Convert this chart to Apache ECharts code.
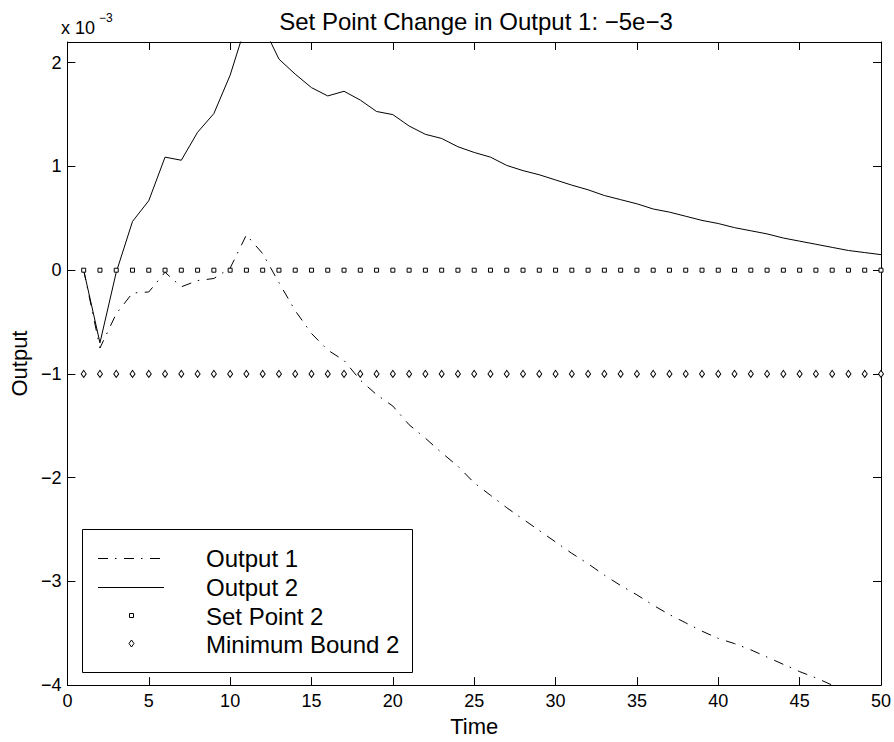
<!DOCTYPE html>
<html>
<head>
<meta charset="utf-8">
<script src="https://cdn.jsdelivr.net/npm/echarts@6/dist/echarts.min.js"></script>
<style>
html,body{margin:0;padding:0;background:#fff;}
#c{width:894px;height:742px;}
</style>
</head>
<body>
<div id="c"></div>
<script>
// ---- data (output values in units of 1e-3) ----
const time = [1,2,3,4,5,6,7,8,9,10,11,12,13,14,15,16,17,18,19,20,21,22,23,24,25,26,27,28,29,30,31,32,33,34,35,36,37,38,39,40,41,42,43,44,45,46,47,48,49,50];
const output1 = [0,-0.75,-0.42,-0.22,-0.21,-0.02,-0.16,-0.10,-0.08,0.02,0.34,0.16,-0.12,-0.39,-0.61,-0.77,-0.87,-1.06,-1.20,-1.31,-1.49,-1.62,-1.76,-1.89,-2.05,-2.17,-2.29,-2.40,-2.51,-2.62,-2.73,-2.83,-2.94,-3.04,-3.13,-3.23,-3.32,-3.40,-3.48,-3.55,-3.60,-3.66,-3.73,-3.80,-3.87,-3.93,-4.00,-4.06,-4.12,-4.18];
const output2 = [0,-0.70,-0.02,0.47,0.67,1.09,1.06,1.33,1.51,1.88,2.38,2.36,2.035,1.89,1.76,1.68,1.725,1.64,1.53,1.50,1.39,1.31,1.27,1.19,1.135,1.09,1.01,0.96,0.92,0.87,0.82,0.775,0.72,0.68,0.64,0.59,0.56,0.52,0.48,0.45,0.41,0.38,0.35,0.31,0.28,0.25,0.22,0.19,0.17,0.15];
const setPoint2 = [0,0,0,0,0,0,0,0,0,0,0,0,0,0,0,0,0,0,0,0,0,0,0,0,0,0,0,0,0,0,0,0,0,0,0,0,0,0,0,0,0,0,0,0,0,0,0,0,0,0];
const minBound2 = [-1,-1,-1,-1,-1,-1,-1,-1,-1,-1,-1,-1,-1,-1,-1,-1,-1,-1,-1,-1,-1,-1,-1,-1,-1,-1,-1,-1,-1,-1,-1,-1,-1,-1,-1,-1,-1,-1,-1,-1,-1,-1,-1,-1,-1,-1,-1,-1,-1,-1];
const xTicks = [0,5,10,15,20,25,30,35,40,45,50];
const yTicks = [-4,-3,-2,-1,0,1,2];
const seriesNames = ['Output 1','Output 2','Set Point 2','Minimum Bound 2'];
const titleText = 'Set Point Change in Output 1: \u22125e\u22123';
const xName = 'Time';
const yName = 'Output';
const scaleText = 'x 10';
const scaleExp = '\u22123';

// ---- styling ----
const FONT = '"Liberation Sans", Arial, Helvetica, sans-serif';
const BLACK = '#000';
const DASHDOT = [10, 7, 1.5, 7.5];
const pairs = ys => time.map((t, i) => [t, ys[i]]);
const minus = v => String(v).replace('-', '\u2212');

const chart = echarts.init(document.getElementById('c'), null, {renderer: 'svg'});

const axisCommon = {
  axisLine: {show: true, onZero: false, lineStyle: {color: BLACK, width: 1}},
  splitLine: {show: false}
};

const option = {
  animation: false,
  backgroundColor: '#fff',
  title: {
    text: titleText,
    left: 471,
    textAlign: 'center',
    top: 4,
    textStyle: {fontFamily: FONT, fontSize: 24, fontWeight: 'normal', color: BLACK}
  },
  grid: {left: 61, top: 42, right: 13, bottom: 54, containLabel: false},
  xAxis: [
    Object.assign({}, axisCommon, {
      type: 'value', position: 'bottom', min: 0, max: 50, interval: 5,
      axisTick: {show: true, inside: true, length: 8, customValues: xTicks, lineStyle: {color: BLACK}},
      axisLabel: {show: true, customValues: xTicks, margin: 7, fontFamily: FONT, fontSize: 18, color: BLACK},
      name: xName, nameLocation: 'middle', nameGap: 26,
      nameTextStyle: {fontFamily: FONT, fontSize: 22, color: BLACK}
    }),
    Object.assign({}, axisCommon, {
      type: 'value', position: 'top', min: 0, max: 50, interval: 5,
      axisTick: {show: true, inside: true, length: 8, customValues: xTicks, lineStyle: {color: BLACK}},
      axisLabel: {show: false}
    })
  ],
  yAxis: [
    Object.assign({}, axisCommon, {
      type: 'value', position: 'left', min: -4, max: 2.2, interval: 1,
      axisTick: {show: true, inside: true, length: 8, customValues: yTicks, lineStyle: {color: BLACK}},
      axisLabel: {show: true, customValues: yTicks, margin: 6, fontFamily: FONT, fontSize: 18, color: BLACK, formatter: minus},
      name: yName, nameLocation: 'middle', nameGap: 30, nameRotate: 90,
      nameTextStyle: {fontFamily: FONT, fontSize: 22, color: BLACK}
    }),
    Object.assign({}, axisCommon, {
      type: 'value', position: 'right', min: -4, max: 2.2, interval: 1,
      axisTick: {show: true, inside: true, length: 8, customValues: yTicks, lineStyle: {color: BLACK}},
      axisLabel: {show: false}
    })
  ],
  series: [
    {
      name: seriesNames[0], type: 'line', xAxisIndex: 0, yAxisIndex: 0,
      data: pairs(output1), symbol: 'none', clip: true, z: 2,
      lineStyle: {color: BLACK, width: 1, type: DASHDOT}
    },
    {
      name: seriesNames[1], type: 'line', xAxisIndex: 0, yAxisIndex: 0,
      data: pairs(output2), symbol: 'none', clip: true, z: 2,
      lineStyle: {color: BLACK, width: 1, type: 'solid'}
    },
    {
      name: seriesNames[2], type: 'scatter', xAxisIndex: 0, yAxisIndex: 0,
      data: pairs(setPoint2), symbol: 'rect', symbolSize: 4, z: 3,
      itemStyle: {color: '#fff', borderColor: BLACK, borderWidth: 1, opacity: 1}
    },
    {
      name: seriesNames[3], type: 'scatter', xAxisIndex: 0, yAxisIndex: 0,
      data: pairs(minBound2), symbol: 'diamond', symbolSize: [5, 7], z: 3,
      itemStyle: {color: '#fff', borderColor: BLACK, borderWidth: 1, opacity: 1}
    }
  ],
  graphic: [
    // axis scale factor
    {type: 'text', x: 61, y: 28, style: {text: scaleText, fontFamily: FONT, fontSize: 18, fill: BLACK, textVerticalAlign: 'middle', textAlign: 'left'}},
    {type: 'text', x: 99, y: 18, style: {text: scaleExp, fontFamily: FONT, fontSize: 12, fill: BLACK, textVerticalAlign: 'middle', textAlign: 'left'}},
    // legend box
    {
      type: 'group', x: 82, y: 529, z: 100,
      children: [
        {type: 'rect', shape: {x: 0.5, y: 0.5, width: 330, height: 143}, style: {fill: '#fff', stroke: BLACK, lineWidth: 1}},
        {type: 'line', shape: {x1: 16, y1: 29.5, x2: 82, y2: 29.5}, style: {stroke: BLACK, lineWidth: 1, lineDash: DASHDOT}},
        {type: 'line', shape: {x1: 16, y1: 58.5, x2: 82, y2: 58.5}, style: {stroke: BLACK, lineWidth: 1}},
        {type: 'rect', shape: {x: 47.5, y: 84.5, width: 4, height: 4}, style: {fill: '#fff', stroke: BLACK, lineWidth: 1}},
        {type: 'polygon', shape: {points: [[49.5, 111], [52, 114.5], [49.5, 118], [47, 114.5]]}, style: {fill: '#fff', stroke: BLACK, lineWidth: 1}},
        {type: 'text', x: 124, y: 29, style: {text: seriesNames[0], fontFamily: FONT, fontSize: 24, fill: BLACK, textVerticalAlign: 'middle'}},
        {type: 'text', x: 124, y: 58, style: {text: seriesNames[1], fontFamily: FONT, fontSize: 24, fill: BLACK, textVerticalAlign: 'middle'}},
        {type: 'text', x: 124, y: 87, style: {text: seriesNames[2], fontFamily: FONT, fontSize: 24, fill: BLACK, textVerticalAlign: 'middle'}},
        {type: 'text', x: 124, y: 115, style: {text: seriesNames[3], fontFamily: FONT, fontSize: 24, fill: BLACK, textVerticalAlign: 'middle'}}
      ]
    }
  ]
};
chart.setOption(option);
</script>
</body>
</html>
